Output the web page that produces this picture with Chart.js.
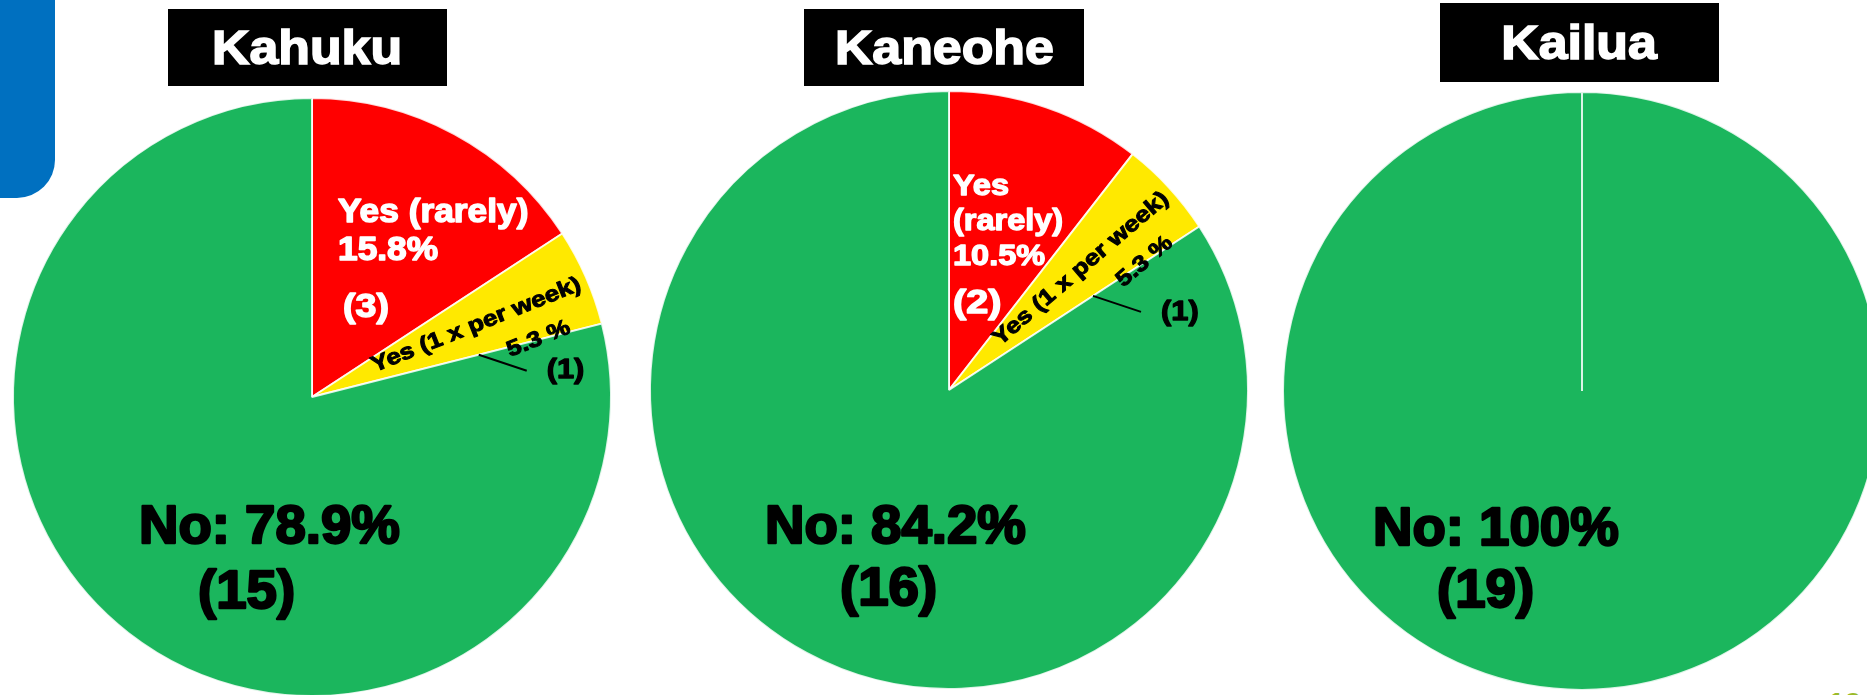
<!DOCTYPE html>
<html>
<head>
<meta charset="utf-8">
<script src="https://cdn.jsdelivr.net/npm/chart.js@4.4.1/dist/chart.umd.min.js"></script>
<style>
  html, body { margin: 0; padding: 0; background: #fff; }
  #page { position: relative; width: 1867px; height: 695px; overflow: hidden; background: #fff; }
  canvas { position: absolute; }
  .title {
    position: absolute; background: #000; color: #fff;
    display: flex; align-items: center; justify-content: center;
    font-family: "Liberation Sans", Arial, sans-serif; font-weight: bold; font-size: 48px;
    -webkit-text-stroke: 1.6px #fff;
  }
  .title span { display: inline-block; transform: scaleX(1.08); }
  #tab { position: absolute; left: 0; top: 0; width: 55px; height: 198px; background: #0070C0; border-bottom-right-radius: 38px; }
  #slideNo { position: absolute; left: 1828px; top: 688px; color: #9BBB2A; font: bold 30px "Liberation Sans", Arial, sans-serif; line-height: 30px; }
</style>
</head>
<body>
<div id="page">
  <div id="tab"></div>
  <div id="slideNo">19</div>
</div>
<script>
const regions = ["Kahuku", "Kaneohe", "Kailua"];
const categories = ["Yes (rarely)", "Yes (1 x per week)", "No"];
const kahukuCounts = [3, 1, 15];
const kaneoheCounts = [2, 1, 16];
const kailuaCounts = [0, 0, 19];
const sliceColors = ["#FF0000", "#FFE900", "#1BB65D"];

// where each pie sits and how its labels are laid out
const pies = [
  {
    name: regions[0], counts: kahukuCounts, cx: 312, cy: 397,
    box: { x: 168, y: 9, w: 279, h: 77 },
    rarely: { dx: 26, dy: -175, lines: ["Yes (rarely)", "%p%"], gap: 38, size: 33, stretch: 1.07,
              cdx: 31, cdy: -80, csize: 33, cstretch: 1.14 },
    no: { dx: -173, dy: 146, cdx: -114, cdy: 211 }
  },
  {
    name: regions[1], counts: kaneoheCounts, cx: 949, cy: 390,
    box: { x: 804, y: 9, w: 280, h: 77 },
    rarely: { dx: 4, dy: -195, lines: ["Yes", "(rarely)", "%p%"], gap: 35, size: 29, stretch: 1.12,
              cdx: 4, cdy: -77, csize: 33, cstretch: 1.2 },
    no: { dx: -184, dy: 153, cdx: -109, cdy: 215 }
  },
  {
    name: regions[2], counts: kailuaCounts, cx: 1582, cy: 391,
    box: { x: 1440, y: 3, w: 279, h: 79 },
    rarely: null,
    no: { dx: -209, dy: 154, cdx: -145, cdy: 216 }
  }
];

const FONT = "'Liberation Sans', Arial, sans-serif";

function drawText(ctx, str, x, y, size, stretch, color, align, baseline, rot) {
  ctx.save();
  ctx.translate(x, y);
  if (rot) ctx.rotate(rot);
  ctx.scale(stretch, 1);
  ctx.font = "bold " + size + "px " + FONT;
  ctx.fillStyle = color;
  ctx.strokeStyle = color;
  ctx.lineWidth = size * 0.045;
  ctx.lineJoin = "round";
  ctx.textAlign = align || "left";
  ctx.textBaseline = baseline || "alphabetic";
  ctx.fillText(str, 0, 0);
  ctx.strokeText(str, 0, 0);
  ctx.restore();
}

function pctText(v, total) {
  const p = Math.round(v / total * 1000) / 10;
  return p % 1 === 0 ? String(p) : p.toFixed(1);
}

function makeLabelPlugin(pie) {
  return {
    id: "sliceText",
    afterDatasetsDraw: function (chart) {
      const ctx = chart.ctx;
      const arcs = chart.getDatasetMeta(0).data;
      const counts = chart.data.datasets[0].data;
      const total = counts.reduce((a, b) => a + b, 0);
      const cx = arcs[2].x, cy = arcs[2].y;

      // red slice
      if (counts[0] > 0 && pie.rarely) {
        const r = pie.rarely;
        r.lines.forEach((line, i) => {
          const s = line.replace("%p", pctText(counts[0], total));
          drawText(ctx, s, cx + r.dx, cy + r.dy + i * r.gap, r.size, r.stretch, "#fff");
        });
        drawText(ctx, "(" + counts[0] + ")", cx + r.cdx, cy + r.cdy, r.csize, r.cstretch, "#fff");
      }

      // yellow slice: text along the wedge plus a leader to the count
      if (counts[1] > 0) {
        const arc = arcs[1];
        const rot = (arc.startAngle + arc.endAngle) / 2 + 2 * Math.PI / 180;
        const ux = Math.cos(rot), uy = Math.sin(rot);
        const vx = -Math.sin(rot), vy = Math.cos(rot);
        drawText(ctx, categories[1], cx + 179 * ux, cy + 179 * uy, 22, 1.18, "#000", "center", "alphabetic", rot);
        const p2 = 232, q2 = 36;
        drawText(ctx, pctText(counts[1], total) + " %", cx + p2 * ux + q2 * vx, cy + p2 * uy + q2 * vy,
                 22, 1.18, "#000", "center", "alphabetic", rot);
        const sx = cx + 172 * Math.cos(arc.endAngle), sy = cy + 172 * Math.sin(arc.endAngle);
        const ex = sx + 48, ey = sy + 16;
        ctx.save();
        ctx.strokeStyle = "#000";
        ctx.lineWidth = 2;
        ctx.beginPath();
        ctx.moveTo(sx, sy);
        ctx.lineTo(ex, ey);
        ctx.stroke();
        ctx.restore();
        drawText(ctx, "(" + counts[1] + ")", ex + 20, ey, 28, 1.1, "#000", "left", "middle");
      }

      // green slice
      const n = pie.no;
      drawText(ctx, "No: " + pctText(counts[2], total) + "%", cx + n.dx, cy + n.dy, 53, 1.03, "#000");
      drawText(ctx, "(" + counts[2] + ")", cx + n.cdx, cy + n.cdy, 53, 1.03, "#000");
    }
  };
}

const page = document.getElementById("page");
const CW = 640, CH = 800;

pies.forEach(pie => {
  const canvas = document.createElement("canvas");
  canvas.width = CW;
  canvas.height = CH;
  canvas.style.width = CW + "px";
  canvas.style.height = CH + "px";
  canvas.style.left = (pie.cx - CW / 2) + "px";
  canvas.style.top = (pie.cy - CH / 2) + "px";
  page.appendChild(canvas);

  new Chart(canvas, {
    type: "pie",
    data: {
      labels: categories,
      datasets: [{
        data: pie.counts,
        backgroundColor: sliceColors,
        borderColor: "rgba(255,255,255,0.85)",
        borderWidth: 2
      }]
    },
    options: {
      responsive: false,
      animation: false,
      radius: 299,
      layout: { padding: 0 },
      plugins: { legend: { display: false }, tooltip: { enabled: false } }
    },
    plugins: [makeLabelPlugin(pie)]
  });

  const t = document.createElement("div");
  t.className = "title";
  t.style.left = pie.box.x + "px";
  t.style.top = pie.box.y + "px";
  t.style.width = pie.box.w + "px";
  t.style.height = pie.box.h + "px";
  t.innerHTML = "<span>" + pie.name + "</span>";
  page.appendChild(t);
});
</script>
</body>
</html>
